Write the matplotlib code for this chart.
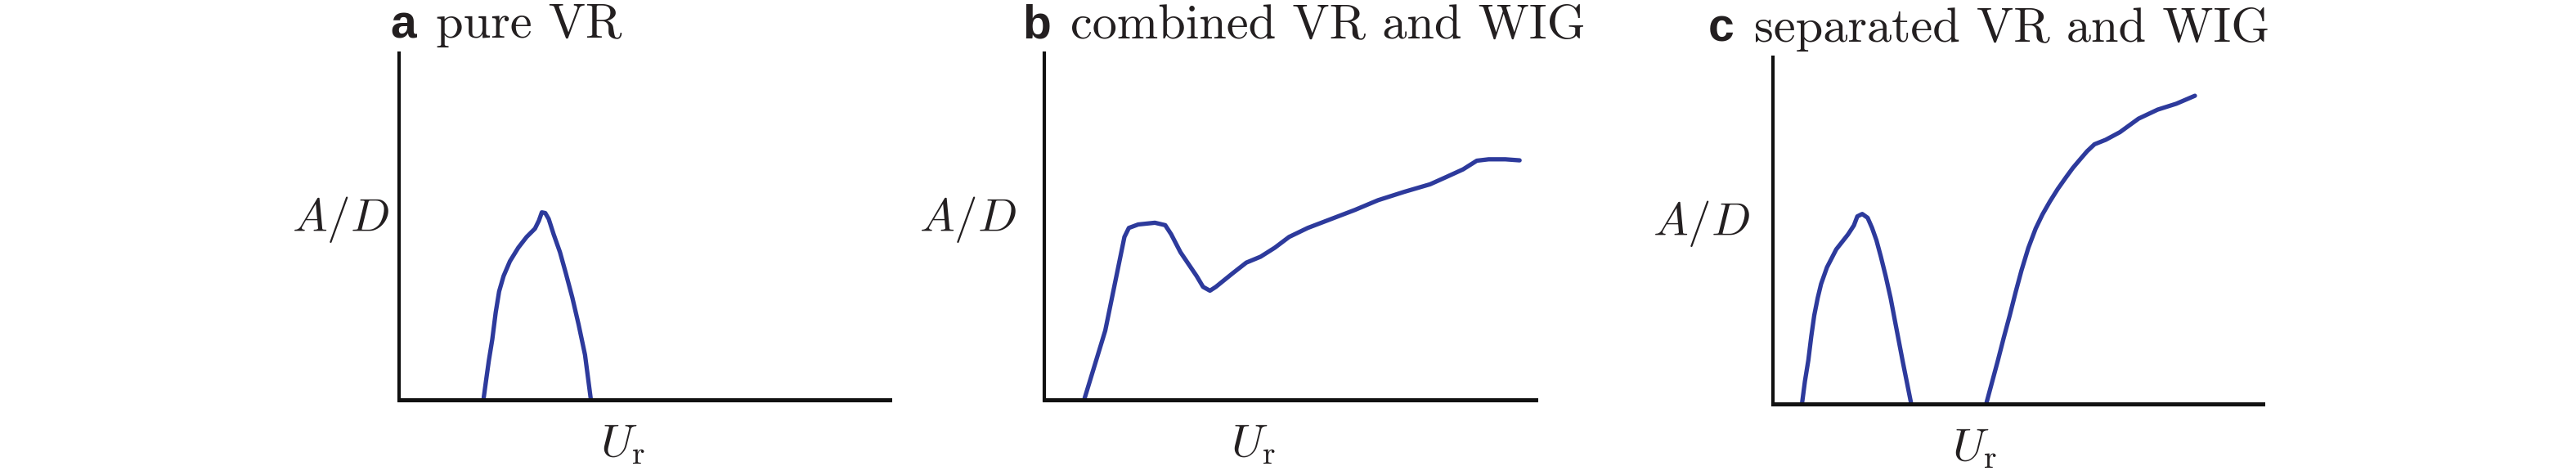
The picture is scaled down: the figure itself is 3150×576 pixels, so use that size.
import matplotlib as mpl
mpl.use("Agg")
import matplotlib.pyplot as plt
import numpy as np

# Fonte estilo LaTeX para os rotulos matematicos
mpl.rcParams['mathtext.fontset'] = 'cm'

#################################################################################
# Dados (fracao da largura/altura do eixo)
# a: VR puro
a_x = [0.172, 0.177, 0.183, 0.190, 0.197, 0.204, 0.213, 0.226, 0.243, 0.260, 0.277, 0.285,
       0.291, 0.298, 0.305, 0.315, 0.328, 0.340, 0.353, 0.366, 0.379, 0.391]
a_y = [0.0, 0.052, 0.113, 0.174, 0.252, 0.313, 0.357, 0.400, 0.439, 0.470, 0.494, 0.517,
       0.541, 0.539, 0.522, 0.478, 0.426, 0.365, 0.296, 0.217, 0.130, 0.0]

# b: VR e WIG combinados
b_x = [0.081, 0.124, 0.163, 0.172, 0.191, 0.225, 0.246, 0.258, 0.277, 0.310, 0.323, 0.337,
       0.349, 0.383, 0.411, 0.440, 0.469, 0.498, 0.536, 0.584, 0.632, 0.679, 0.732, 0.785,
       0.818, 0.852, 0.880, 0.904, 0.938, 0.967]
b_y = [0.0, 0.20, 0.47, 0.496, 0.506, 0.511, 0.504, 0.478, 0.426, 0.357, 0.326, 0.315,
       0.326, 0.365, 0.396, 0.413, 0.439, 0.470, 0.496, 0.522, 0.548, 0.576, 0.600, 0.622,
       0.643, 0.665, 0.690, 0.694, 0.694, 0.691]

# c: VR e WIG separados (dois ramos)
c1_x = [0.059, 0.065, 0.072, 0.078, 0.084, 0.091, 0.098, 0.110, 0.129, 0.153, 0.165, 0.172,
        0.182, 0.193, 0.202, 0.211, 0.220, 0.230, 0.240, 0.249, 0.265, 0.282]
c1_y = [0.0, 0.065, 0.126, 0.195, 0.255, 0.305, 0.346, 0.394, 0.446, 0.489, 0.515, 0.541,
        0.548, 0.537, 0.508, 0.472, 0.425, 0.368, 0.305, 0.238, 0.120, 0.0]
c2_x = [0.435, 0.447, 0.459, 0.471, 0.483, 0.495, 0.507, 0.521, 0.536, 0.550, 0.565, 0.581,
        0.598, 0.612, 0.627, 0.641, 0.656, 0.679, 0.708, 0.746, 0.785, 0.823, 0.861]
c2_y = [0.0, 0.063, 0.126, 0.192, 0.255, 0.322, 0.385, 0.450, 0.506, 0.547, 0.584, 0.620,
        0.654, 0.681, 0.706, 0.729, 0.749, 0.762, 0.784, 0.823, 0.849, 0.866, 0.889]

letras = ["a", "b", "c"]
titulos = ["pure VR", "combined VR and WIG", "separated VR and WIG"]
################################################################################

COR = '#2D3A9C'
TXT = '#231F20'
fig = plt.figure(figsize=(31.5, 5.76), dpi=100)

# posicao dos eixos em fracao da figura [esq, baixo, larg, alt]
posicoes = [[0.1549, 0.151, 0.1905, 0.736],
            [0.4054, 0.151, 0.1908, 0.736],
            [0.6883, 0.1424, 0.1902, 0.736]]
curvas = [[(a_x, a_y)], [(b_x, b_y)], [(c1_x, c1_y), (c2_x, c2_y)]]
titulo_x = [-0.017, -0.045, -0.132]
ad_x = [-0.02, -0.057, -0.047]
ur_x = [0.41, 0.38, 0.366]

eixos = []
for i in range(3):
    ax = fig.add_axes(posicoes[i])
    for xs, ys in curvas[i]:
        ax.plot(xs, ys, color=COR, lw=3.8, solid_capstyle='round', solid_joinstyle='round',
                clip_on=False, zorder=2)
    ax.set_xlim(0, 1)
    ax.set_ylim(0, 1)
    ax.spines['top'].set_visible(False)
    ax.spines['right'].set_visible(False)
    ax.spines['left'].set_linewidth(3.0)
    ax.spines['bottom'].set_linewidth(3.6)
    ax.spines['left'].set_color('#111111')
    ax.spines['bottom'].set_color('#111111')
    ax.spines['left'].set_zorder(3)
    ax.spines['bottom'].set_zorder(3)
    ax.set_xticks([])
    ax.set_yticks([])
    ax.patch.set_visible(False)
    ax.text(ad_x[i], 0.52, r'$A/D$', transform=ax.transAxes, ha='right', va='center',
            fontsize=41, color=TXT)
    ax.text(ur_x[i], -0.062, r'$U_\mathrm{r}$', transform=ax.transAxes, ha='left', va='top',
            fontsize=41, color=TXT)
    eixos.append(ax)

# Titulos: letra em negrito sans-serif + texto serifado
letra_txt = []
for i, ax in enumerate(eixos):
    t = ax.text(titulo_x[i], 1.045, letras[i], transform=ax.transAxes, ha='left', va='baseline',
                fontsize=41, fontweight='bold', family='Liberation Sans', color=TXT)
    letra_txt.append(t)

fig.canvas.draw()
renderer = fig.canvas.get_renderer()
for i, ax in enumerate(eixos):
    bb = letra_txt[i].get_window_extent(renderer)
    x_disp = bb.x1 + 24
    x_ax = ax.transAxes.inverted().transform((x_disp, 0))[0]
    ax.text(x_ax, 1.045, titulos[i], transform=ax.transAxes, ha='left', va='baseline',
            fontsize=43.5, family='cmr10', color=TXT)

plt.savefig('out.png', dpi=100)
plt.close()
